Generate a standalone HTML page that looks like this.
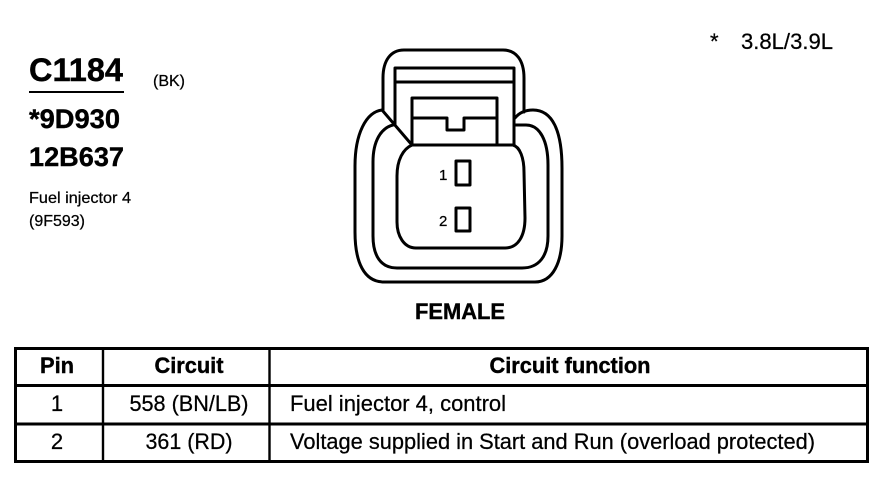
<!DOCTYPE html>
<html>
<head>
<meta charset="utf-8">
<style>
html,body{margin:0;padding:0;background:#fff}
svg{display:block}
text{font-family:"Liberation Sans",sans-serif;fill:#000;stroke:#000;stroke-width:.25}
.b{font-weight:bold;stroke-width:.4}
</style>
</head>
<body>
<svg width="890" height="480" viewBox="0 0 890 480" xmlns="http://www.w3.org/2000/svg">
<rect width="890" height="480" fill="#fff"/>

<!-- left labels -->
<text x="29" y="81" class="b" font-size="32" textLength="94" lengthAdjust="spacingAndGlyphs">C1184</text>
<line x1="29" y1="92" x2="124" y2="92" stroke="#000" stroke-width="2"/>
<text x="153" y="86" font-size="16" textLength="32" lengthAdjust="spacingAndGlyphs">(BK)</text>
<text x="29" y="128" class="b" font-size="27" textLength="91" lengthAdjust="spacingAndGlyphs">*9D930</text>
<text x="29" y="166" class="b" font-size="27" textLength="95" lengthAdjust="spacingAndGlyphs">12B637</text>
<text x="29" y="203" font-size="16" textLength="102" lengthAdjust="spacingAndGlyphs">Fuel injector 4</text>
<text x="29" y="226" font-size="16" textLength="56" lengthAdjust="spacingAndGlyphs">(9F593)</text>

<!-- top right -->
<text x="710" y="49" font-size="22">*</text>
<text x="741" y="49" font-size="22" textLength="92" lengthAdjust="spacingAndGlyphs">3.8L/3.9L</text>

<!-- connector -->
<g fill="none" stroke="#000" stroke-width="3" stroke-linejoin="round" stroke-linecap="round">
  <path d="M383 110 L383 78 C383 60 391 50 404 50 L503 50 C516 50 524 60 524 78 L524 112"/>
  <path d="M395 125 L395 68 L514 68 L514 145"/>
  <path d="M395 82 L514 82"/>
  <path d="M412 145 L412 98 L497 98 L497 145"/>
  <path d="M412 118 L447 118 L447 130 L464 130 L464 118 L497 118"/>
  <path d="M382 110 L412 145"/>
  <path d="M382 110 C366 112 355 134 355 166 L355 232 C355 262 364 282 384 282 L535 282 C553 282 562 262 562 236 L562 168 C562 130 552 110 533 110 C525 110 519 113 515 118"/>
  <path d="M393 125 C381 128 373 141 373 162 L373 236 C373 256 381 268 397 268 L522 268 C539 268 548 256 548 236 L548 165 C548 141 540 125 526 125 L515 125"/>
  <path d="M412 145 L513 145 C520 147 524 158 524 172 L525 218 C525 236 518 248 505 248 L416 248 C404 248 397 236 397 222 L397 176 C397 160 403 149 412 145 Z"/>
  <rect x="456" y="161" width="14" height="24"/>
  <rect x="456" y="208" width="14" height="23"/>
</g>
<text x="439" y="180" font-size="15">1</text>
<text x="439" y="226" font-size="15">2</text>
<text x="415" y="319" class="b" font-size="22" textLength="90" lengthAdjust="spacingAndGlyphs">FEMALE</text>

<!-- table -->
<g stroke="#000" fill="none">
  <rect x="15.5" y="348.5" width="852" height="113" stroke-width="3"/>
  <line x1="15" y1="385.5" x2="868" y2="385.5" stroke-width="3"/>
  <line x1="15" y1="424" x2="868" y2="424" stroke-width="3"/>
  <line x1="103" y1="348" x2="103" y2="462" stroke-width="2.4"/>
  <line x1="269.500" y1="348" x2="269.500" y2="462" stroke-width="2.4"/>
</g>
<g font-size="22">
  <text x="57" y="373" text-anchor="middle" class="b" textLength="34" lengthAdjust="spacingAndGlyphs">Pin</text>
  <text x="189" y="373" text-anchor="middle" class="b" textLength="69" lengthAdjust="spacingAndGlyphs">Circuit</text>
  <text x="570" y="373" text-anchor="middle" class="b" textLength="161" lengthAdjust="spacingAndGlyphs">Circuit function</text>
  <text x="57" y="411" text-anchor="middle">1</text>
  <text x="189" y="411" text-anchor="middle" textLength="119" lengthAdjust="spacingAndGlyphs">558 (BN/LB)</text>
  <text x="290" y="411" textLength="216" lengthAdjust="spacingAndGlyphs">Fuel injector 4, control</text>
  <text x="57" y="449" text-anchor="middle">2</text>
  <text x="189" y="449" text-anchor="middle" textLength="87" lengthAdjust="spacingAndGlyphs">361 (RD)</text>
  <text x="290" y="449" textLength="525" lengthAdjust="spacingAndGlyphs">Voltage supplied in Start and Run (overload protected)</text>
</g>
</svg>
</body>
</html>
